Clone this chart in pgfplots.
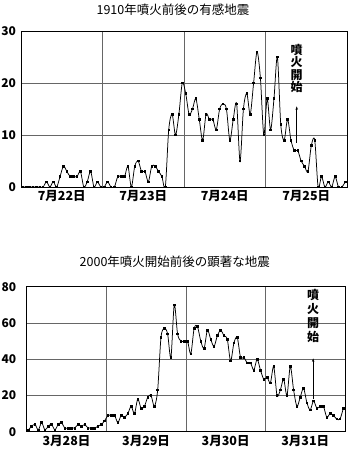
\documentclass[border=0pt]{standalone}
\usepackage{fontspec}
\setmainfont{Noto Sans CJK JP}
\usepackage{pgfplots}
\pgfplotsset{compat=1.18}
\usetikzlibrary{arrows.meta}
\pgfplotsset{
  quake/.style={
    scale only axis,
    xmin=0, xmax=96, ymin=0,
    xtick={24,48,72}, xticklabels={},
    extra x ticks={12,36,60,84},
    extra x tick style={grid=none},
    major tick length=0pt,
    xmajorgrids, ymajorgrids,
    grid style={black!60, line width=0.6pt},
    axis line style={black, line width=0.7pt},
    /pgf/number format/assume math mode=true,
    yticklabel style={font=\bfseries\fontsize{12}{12}\selectfont},
    xticklabel style={font=\bfseries\fontsize{12.5}{12.5}\selectfont},
    title style={font=\fontsize{12.5}{12.5}\selectfont, xshift=-11pt},
  },
  qline/.style={black, line width=0.75pt, smooth, tension=0.5, mark=square*, mark size=0.8pt, mark options={solid}},
}
\begin{document}
\begin{tikzpicture}
\path[use as bounding box] (0pt,0pt) rectangle (350pt,-452pt);
\begin{axis}[quake,
  at={(21pt,-187pt)}, anchor=south west,
  width=326pt, height=156pt,
  ymax=30, ytick={0,10,20,30},
  yticklabel style={xshift=-1.5pt},
  extra x tick labels={7月22日,7月23日,7月24日,7月25日},
  title={1910年噴火前後の有感地震},
  title style={yshift=6pt},
]
\addplot[qline] coordinates {
(0.5,0)(1.5,0)(2.5,0)(3.5,0)(4.5,0)(5.5,0)(6.5,0)(7.5,1)(8.5,0)(9.5,1)
(10.5,0)(11.5,2)(12.5,4)(13.5,3)(14.5,2)(15.5,2)(16.5,2)(17.5,3)(18.5,0)(19.5,1)
(20.5,3)(21.5,0)(22.5,1)(23.5,0)(24.5,0)(25.5,1)(26.5,0)(27.5,0)(28.5,2)(29.5,2)
(30.5,2)(31.5,4)(32.5,0)(33.5,4)(34.5,5)(35.5,3)(36.5,3)(37.5,1)(38.5,4)(39.5,4)
(40.5,3)(41.5,2)(42.5,0)(43.5,11)(44.5,14)(45.5,10)(46.5,14)(47.5,20)(48.5,18)(49.5,14)
(50.5,15)(51.5,17)(52.5,13)(53.5,9)(54.5,14)(55.5,13)(56.5,13)(57.5,11)(58.5,15)(59.5,16)
(60.5,15)(61.5,9)(62.5,13)(63.5,16)(64.5,5)(65.5,15)(66.5,18)(67.5,14)(68.5,20)(69.5,26)
(70.5,21)(71.5,10)(72.5,17)(73.5,11)(74.5,17)(75.5,25)(76.5,12)(77.5,9)(78.5,13)(79.5,9)
(80.5,7)(81.5,7)(82.5,5)(83.5,4)(84.5,3)(85.5,8)(86.5,9)(87.5,0)(88.5,2)(89.5,0)
(90.5,1)(91.5,0)(92.5,2)(93.5,0)(94.5,0)(95.5,1)
};
\draw[-{Stealth[length=3.5pt,width=2.5pt]}, line width=0.6pt] (axis cs:81.2,8.5) -- (axis cs:81.2,15.5);
\node[font=\bfseries\fontsize{12}{12.6}\selectfont, align=center, inner sep=0pt] at (axis cs:81.2,22.8) {噴\\火\\開\\始};
\end{axis}

\begin{axis}[quake,
  at={(26.7pt,-431.7pt)}, anchor=south west,
  width=318.3pt, height=145pt,
  ymax=80, ytick={0,20,40,60,80},
  yticklabel style={xshift=-7pt},
  extra x tick labels={3月28日,3月29日,3月30日,3月31日},
  title={2000年噴火開始前後の顕著な地震},
  title style={yshift=10pt},
]
\addplot[qline] coordinates {
(0.5,1)(1.5,3)(2.5,4)(3.5,1)(4.5,5)(5.5,1)(6.5,3)(7.5,4)(8.5,1)(9.5,4)
(10.5,5)(11.5,2)(12.5,2)(13.5,2)(14.5,2)(15.5,4)(16.5,3)(17.5,4)(18.5,2)(19.5,2)
(20.5,2)(21.5,3)(22.5,4)(23.5,6)(24.5,9)(25.5,9)(26.5,9)(27.5,5)(28.5,9)(29.5,8)
(30.5,10)(31.5,14)(32.5,10)(33.5,18)(34.5,13)(35.5,14)(36.5,19)(37.5,20)(38.5,14)(39.5,23)
(40.5,52)(41.5,57)(42.5,54)(43.5,41)(44.5,70)(45.5,54)(46.5,50)(47.5,50)(48.5,50)(49.5,43)
(50.5,57)(51.5,58)(52.5,50)(53.5,46)(54.5,56)(55.5,51)(56.5,47)(57.5,53)(58.5,56)(59.5,53)
(60.5,51)(61.5,39)(62.5,49)(63.5,52)(64.5,41)(65.5,41)(66.5,38)(67.5,38)(68.5,34)(69.5,40)
(70.5,34)(71.5,29)(72.5,30)(73.5,27)(74.5,36)(75.5,20)(76.5,23)(77.5,29)(78.5,20)(79.5,36)
(80.5,23)(81.5,14)(82.5,19)(83.5,24)(84.5,16)(85.5,12)(86.5,17)(87.5,13)(88.5,14)(89.5,14)
(90.5,8)(91.5,10)(92.5,9)(93.5,7)(94.5,7)(95.5,13)
};
\draw[-{Stealth[length=3.5pt,width=2.5pt]}, line width=0.6pt] (axis cs:86.4,18) -- (axis cs:86.4,40.5);
\node[font=\bfseries\fontsize{12}{14}\selectfont, align=center, inner sep=0pt] at (axis cs:86.4,63.8) {噴\\火\\開\\始};
\end{axis}
\end{tikzpicture}
\end{document}
